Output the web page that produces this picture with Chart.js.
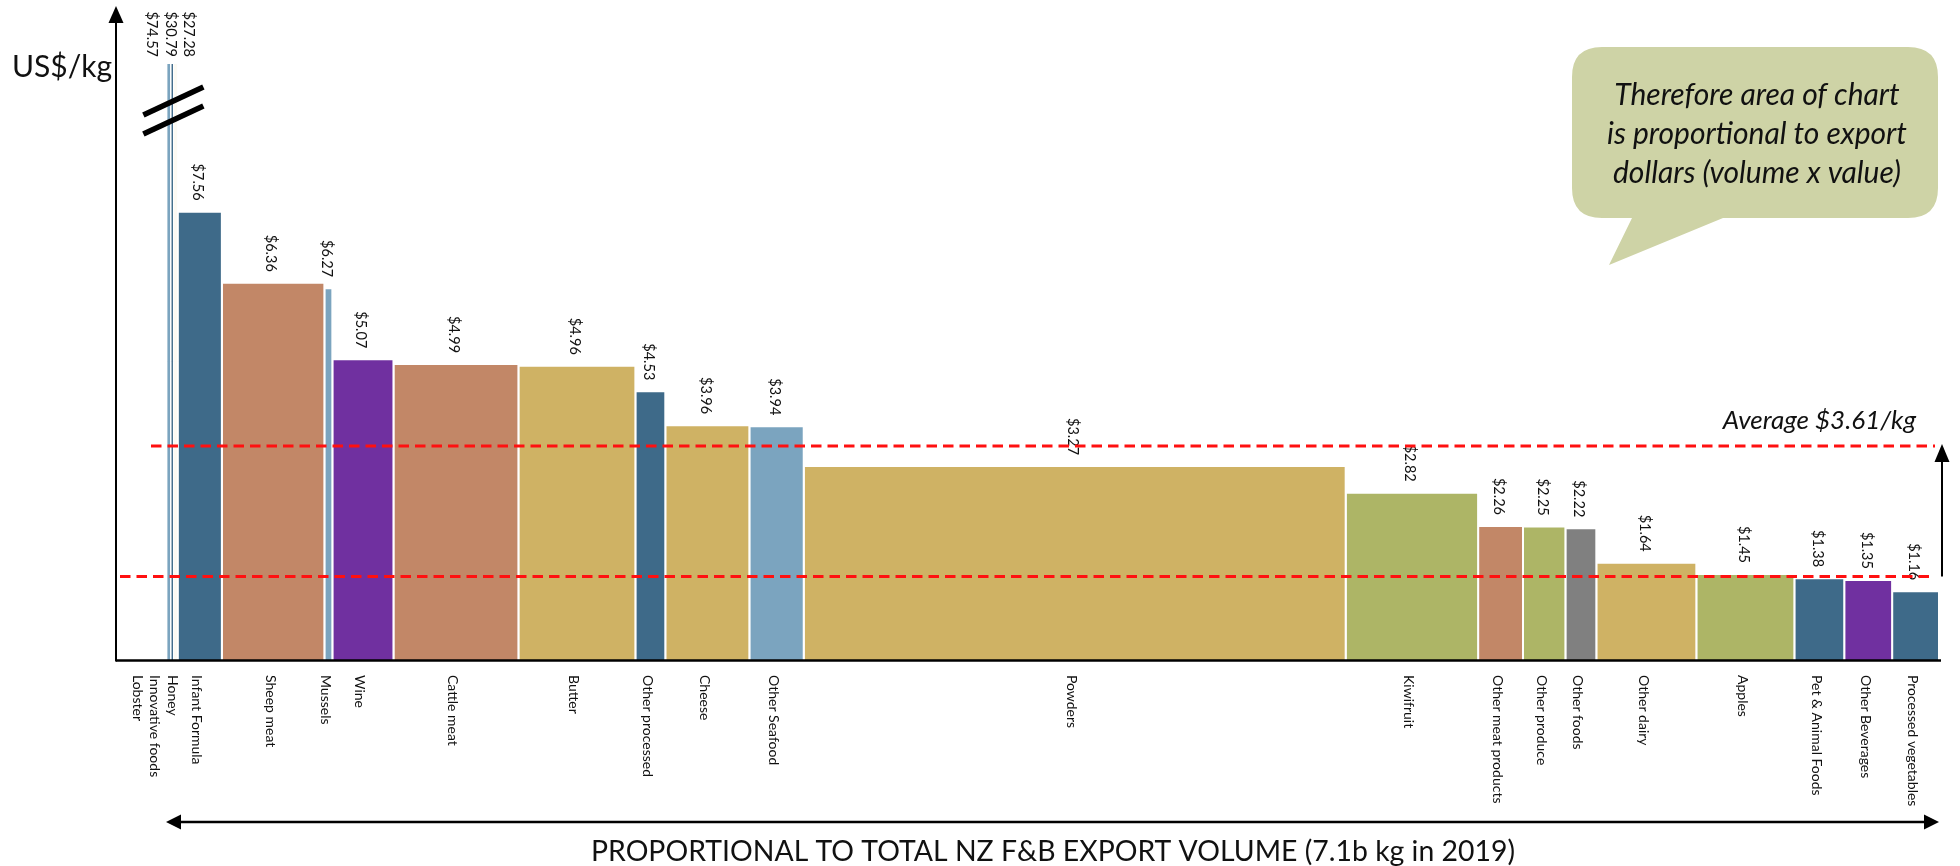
<!DOCTYPE html>
<html>
<head>
<meta charset="utf-8">
<script src="https://cdn.jsdelivr.net/npm/chart.js@4.4.1/dist/chart.umd.min.js"></script>
<style>
  html, body { margin: 0; padding: 0; background: #ffffff; overflow: hidden; }
  #wrap { width: 1960px; height: 866px; position: relative; }
</style>
</head>
<body>
<div id="wrap"><canvas id="c" width="1960" height="866"></canvas></div>
<script>
// NZ food & beverage exports, 2019: price per kg (bar height) and volume (bar width)
const categories = [
  'Lobster', 'Innovative foods', 'Honey', 'Infant Formula', 'Sheep meat', 'Mussels', 'Wine',
  'Cattle meat', 'Butter', 'Other processed', 'Cheese', 'Other Seafood', 'Powders', 'Kiwifruit',
  'Other meat products', 'Other produce', 'Other foods', 'Other dairy', 'Apples',
  'Pet & Animal Foods', 'Other Beverages', 'Processed vegetables'
];
const pricePerKg = [
  74.57, 30.79, 27.28, 7.56, 6.36, 6.27, 5.07,
  4.99, 4.96, 4.53, 3.96, 3.94, 3.27, 2.82,
  2.26, 2.25, 2.22, 1.64, 1.45,
  1.38, 1.35, 1.16
];
// export volume, million kg
const volumeMkg = [
  15, 11, 17, 177, 411, 32, 245,
  501, 469, 120, 337, 218, 2173, 531,
  180, 170, 124, 401, 393,
  200, 192, 188
];
const sector = [
  'seafood', 'processed', 'honey', 'processed', 'meat', 'seafood', 'beverage',
  'meat', 'dairy', 'processed', 'dairy', 'seafood', 'dairy', 'produce',
  'meat', 'produce', 'other', 'dairy', 'produce',
  'processed', 'beverage', 'processed'
];
const averagePrice = 3.61;
const floorPrice = 1.41;
const yAxisCap = 10.05;

const sectorColors = {
  seafood: '#7BA4BF', processed: '#3E6A89', honey: '#FCFAF3', meat: '#C28767',
  beverage: '#7030A0', dairy: '#CFB264', produce: '#ADB566', other: '#808080'
};

const FONT = 'Lato, "Open Sans", "DejaVu Sans", sans-serif';

// cumulative volume gives each bar its left and right edge on the x scale
const starts = [];
let running = 0;
volumeMkg.forEach(v => { starts.push(running); running += v; });
const totalVolume = running;

const datasets = categories.map((name, i) => {
  const x0 = starts[i], x1 = starts[i] + volumeMkg[i], v = pricePerKg[i];
  return {
    label: name,
    data: [{ x: x0, y: 0 }, { x: x0, y: v }, { x: x1, y: v }, { x: x1, y: 0 }],
    backgroundColor: sectorColors[sector[i]],
    borderColor: '#ffffff',
    borderWidth: v > yAxisCap ? 0.8 : 2,
    fill: 'origin',
    pointRadius: 0,
    tension: 0
  };
});

function vText(ctx, str, x, y, align) {
  ctx.save();
  ctx.translate(x, y);
  ctx.rotate(Math.PI / 2);
  ctx.textAlign = align;
  ctx.textBaseline = 'middle';
  ctx.fillText(str, 0, 0);
  ctx.restore();
}

function arrowHead(ctx, tipX, tipY, dx, dy, len, half) {
  // dx,dy: unit direction the arrow points to
  const bx = tipX - dx * len, by = tipY - dy * len;
  ctx.beginPath();
  ctx.moveTo(tipX, tipY);
  ctx.lineTo(bx - dy * half, by + dx * half);
  ctx.lineTo(bx + dy * half, by - dx * half);
  ctx.closePath();
  ctx.fill();
}

const decorations = {
  id: 'decorations',
  afterDatasetsDraw(chart) {
    const ctx = chart.ctx;
    const area = chart.chartArea;
    const xs = chart.scales.x, ys = chart.scales.y;
    const ink = '#111111';

    // bars that run past the top of the axis
    const offscale = pricePerKg.map((v, i) => v > ys.max ? i : -1).filter(i => i >= 0);
    const clusterLeft = xs.getPixelForValue(starts[offscale[0]]);
    const lastOff = offscale[offscale.length - 1];
    const clusterRight = xs.getPixelForValue(starts[lastOff] + volumeMkg[lastOff]);
    const clusterMid = (clusterLeft + clusterRight) / 2;

    // axis break marks
    ctx.save();
    ctx.strokeStyle = '#000000';
    ctx.lineWidth = 5.5;
    [37, 56].forEach(off => {
      ctx.beginPath();
      ctx.moveTo(clusterMid - 29, area.top + off + 14);
      ctx.lineTo(clusterMid + 31, area.top + off - 14);
      ctx.stroke();
    });
    ctx.restore();

    // x axis
    ctx.save();
    ctx.strokeStyle = '#000000';
    ctx.fillStyle = '#000000';
    ctx.lineWidth = 2.5;
    ctx.beginPath();
    ctx.moveTo(area.left, area.bottom + 0.5);
    ctx.lineTo(area.right, area.bottom + 0.5);
    ctx.stroke();
    // y axis with arrow
    ctx.lineWidth = 2;
    ctx.beginPath();
    ctx.moveTo(area.left, area.bottom + 1.5);
    ctx.lineTo(area.left, 20);
    ctx.stroke();
    arrowHead(ctx, area.left, 6, 0, -1, 17, 7.5);
    ctx.restore();

    // value labels above bars
    ctx.save();
    ctx.fillStyle = ink;
    ctx.font = '14.5px ' + FONT;
    pricePerKg.forEach((v, i) => {
      const label = '$' + v.toFixed(2);
      const k = offscale.indexOf(i);
      if (k >= 0) {
        const x = clusterMid - 2 + (k - (offscale.length - 1) / 2) * 18.5;
        vText(ctx, label, x, area.top - 7, 'right');
      } else {
        const x = xs.getPixelForValue(starts[i] + volumeMkg[i] / 2) - 2;
        vText(ctx, label, x, ys.getPixelForValue(v) - 11, 'right');
      }
    });
    // category labels below the axis
    ctx.font = '14px ' + FONT;
    categories.forEach((name, i) => {
      const k = offscale.indexOf(i);
      let x;
      if (k >= 0) {
        x = clusterMid - (offscale.length - 1 - k) * 17.5;
      } else {
        x = xs.getPixelForValue(starts[i] + volumeMkg[i] / 2) - 3;
      }
      vText(ctx, name, x, area.bottom + 15, 'left');
    });
    ctx.restore();

    // guide lines: average price and the lower band
    ctx.save();
    ctx.strokeStyle = '#FF1010';
    ctx.lineWidth = 3;
    ctx.setLineDash([10.5, 6]);
    const yAvg = ys.getPixelForValue(averagePrice);
    const yFloor = ys.getPixelForValue(floorPrice);
    ctx.beginPath();
    ctx.moveTo(area.left + 35, yAvg);
    ctx.lineTo(area.right - 6, yAvg);
    ctx.stroke();
    ctx.beginPath();
    ctx.moveTo(area.left + 4, yFloor);
    ctx.lineTo(area.right - 6, yFloor);
    ctx.stroke();
    ctx.restore();

    // upward arrow between the two guide lines
    ctx.save();
    ctx.strokeStyle = '#000000';
    ctx.fillStyle = '#000000';
    ctx.lineWidth = 2;
    const ax = area.right + 1;
    ctx.beginPath();
    ctx.moveTo(ax, yFloor);
    ctx.lineTo(ax, yAvg + 12);
    ctx.stroke();
    arrowHead(ctx, ax, yAvg - 2, 0, -1, 18, 7.5);
    ctx.restore();

    // average caption
    ctx.save();
    ctx.fillStyle = ink;
    ctx.font = 'italic 26px ' + FONT;
    ctx.textAlign = 'right';
    ctx.textBaseline = 'alphabetic';
    ctx.fillText('Average $' + averagePrice.toFixed(2) + '/kg', area.right - 25, yAvg - 17);
    ctx.restore();

    // speech bubble
    ctx.save();
    ctx.fillStyle = '#CED3A6';
    const bx = 1572, by = 47, bw = 366, bh = 171, r = 30;
    ctx.beginPath();
    ctx.moveTo(bx + r, by);
    ctx.lineTo(bx + bw - r, by);
    ctx.quadraticCurveTo(bx + bw, by, bx + bw, by + r);
    ctx.lineTo(bx + bw, by + bh - r);
    ctx.quadraticCurveTo(bx + bw, by + bh, bx + bw - r, by + bh);
    ctx.lineTo(1723, by + bh);
    ctx.lineTo(1609, 265);
    ctx.lineTo(1632, by + bh);
    ctx.lineTo(bx + r, by + bh);
    ctx.quadraticCurveTo(bx, by + bh, bx, by + bh - r);
    ctx.lineTo(bx, by + r);
    ctx.quadraticCurveTo(bx, by, bx + r, by);
    ctx.closePath();
    ctx.fill();
    ctx.fillStyle = ink;
    ctx.font = 'italic 30px ' + FONT;
    ctx.textAlign = 'center';
    ctx.textBaseline = 'alphabetic';
    ctx.fillText('Therefore area of chart', 1757, 105);
    ctx.fillText('is proportional to export', 1757, 144);
    ctx.fillText('dollars (volume x value)', 1757, 183);
    ctx.restore();

    // y axis unit
    ctx.save();
    ctx.fillStyle = ink;
    ctx.font = '30px ' + FONT;
    ctx.textAlign = 'left';
    ctx.textBaseline = 'alphabetic';
    ctx.fillText('US$/kg', 12, 77);
    ctx.restore();

    // volume span arrow and caption
    ctx.save();
    ctx.strokeStyle = '#000000';
    ctx.fillStyle = '#000000';
    ctx.lineWidth = 2.5;
    const yA = 822;
    const xL = xs.getPixelForValue(0) - 1, xR = xs.getPixelForValue(totalVolume);
    ctx.beginPath();
    ctx.moveTo(xL + 10, yA);
    ctx.lineTo(xR - 10, yA);
    ctx.stroke();
    arrowHead(ctx, xL, yA, -1, 0, 15, 7.5);
    arrowHead(ctx, xR, yA, 1, 0, 15, 7.5);
    ctx.fillStyle = ink;
    ctx.font = '28.5px ' + FONT;
    ctx.textAlign = 'center';
    ctx.textBaseline = 'alphabetic';
    ctx.fillText('PROPORTIONAL TO TOTAL NZ F&B EXPORT VOLUME (7.1b kg in 2019)', 1053, 861, 924);
    ctx.restore();
  }
};

new Chart(document.getElementById('c'), {
  type: 'line',
  data: { datasets },
  options: {
    responsive: false,
    animation: false,
    devicePixelRatio: 1,
    layout: { padding: { left: 116, right: 19, top: 64, bottom: 206 } },
    plugins: { legend: { display: false }, tooltip: { enabled: false } },
    scales: {
      x: { type: 'linear', min: -204.5, max: totalVolume + 8, display: false },
      y: { min: 0, max: yAxisCap, display: false }
    }
  },
  plugins: [decorations]
});
</script>
</body>
</html>
